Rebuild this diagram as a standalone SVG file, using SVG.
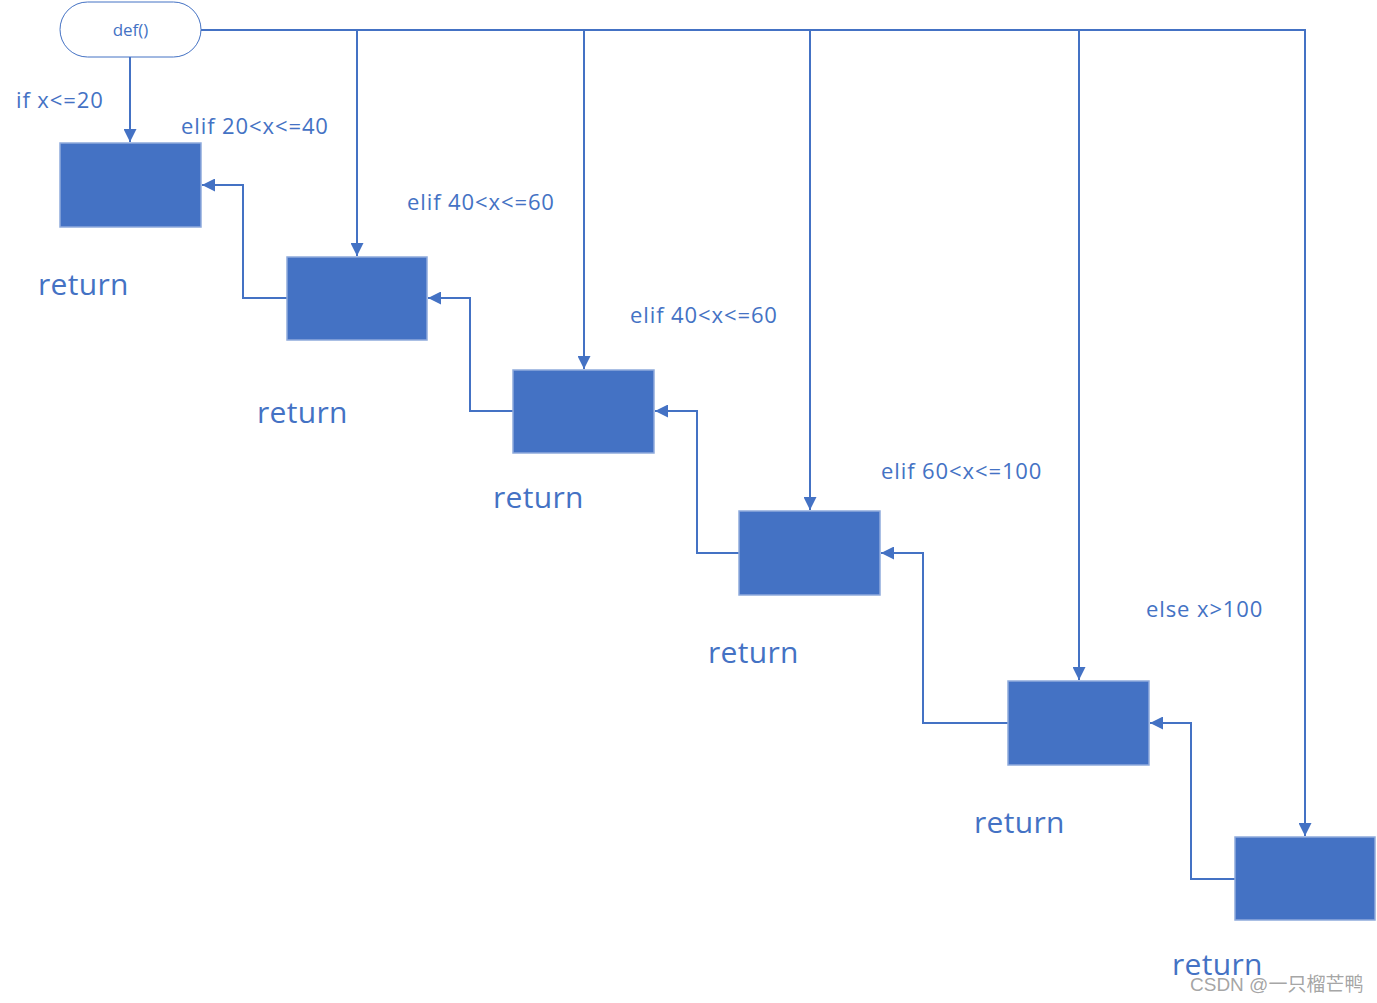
<svg xmlns="http://www.w3.org/2000/svg" width="1377" height="1003" viewBox="0 0 1377 1003">
<style>
.box{fill:#4472C4;stroke:#8FAADC;stroke-width:1.5}
.ln{fill:none;stroke:#4472C4;stroke-width:2}
.lbl{font-family:"Open Sans","Noto Sans",sans-serif;font-size:22px;letter-spacing:0.9px;fill:#4472C4}
.ret{font-family:"Open Sans","Noto Sans",sans-serif;font-size:30px;letter-spacing:0.3px;fill:#4472C4}
</style>
<defs>
<marker id="ah2" viewBox="0 0 10 10" refX="10" refY="5" markerWidth="13" markerHeight="13" markerUnits="userSpaceOnUse" orient="auto">
<path d="M0,0 L10,5 L0,10 z" fill="#4472C4"/>
</marker>
</defs>
<rect width="1377" height="1003" fill="#fff"/>
<g id="connectors">
<path class="ln" d="M130,57 V142" marker-end="url(#ah2)"/>
<path class="ln" d="M201,30 H1305 V836" marker-end="url(#ah2)"/>
<path class="ln" d="M357,30 V256" marker-end="url(#ah2)"/>
<path class="ln" d="M584,30 V369" marker-end="url(#ah2)"/>
<path class="ln" d="M810,30 V510" marker-end="url(#ah2)"/>
<path class="ln" d="M1079,30 V680" marker-end="url(#ah2)"/>
<path class="ln" d="M287,298 H243 V185 H202" marker-end="url(#ah2)"/>
<path class="ln" d="M513,411 H470 V298 H428" marker-end="url(#ah2)"/>
<path class="ln" d="M739,553 H697 V411 H655" marker-end="url(#ah2)"/>
<path class="ln" d="M1008,723 H923 V553 H881" marker-end="url(#ah2)"/>
<path class="ln" d="M1235,879 H1191 V723 H1150" marker-end="url(#ah2)"/>
</g>
<g id="start">
<rect x="60" y="2" width="141" height="55" rx="27.5" fill="#fff" stroke="#4472C4" stroke-width="1"/>
<text x="130.5" y="36" text-anchor="middle" font-family="Open Sans, Noto Sans, sans-serif" font-size="17" fill="#4472C4">def()</text>
</g>
<g id="n1"><rect class="box" x="60" y="143" width="141" height="84"/></g>
<g id="n2"><rect class="box" x="287" y="257" width="140" height="83"/></g>
<g id="n3"><rect class="box" x="513" y="370" width="141" height="83"/></g>
<g id="n4"><rect class="box" x="739" y="511" width="141" height="84"/></g>
<g id="n5"><rect class="box" x="1008" y="681" width="141" height="84"/></g>
<g id="n6"><rect class="box" x="1235" y="837" width="140" height="83"/></g>
<g id="labels">
<text class="lbl" x="16" y="108">if x&lt;=20</text>
<text class="lbl" x="181" y="134">elif 20&lt;x&lt;=40</text>
<text class="lbl" x="407" y="210">elif 40&lt;x&lt;=60</text>
<text class="lbl" x="630" y="323">elif 40&lt;x&lt;=60</text>
<text class="lbl" x="881" y="479">elif 60&lt;x&lt;=100</text>
<text class="lbl" x="1146" y="617">else x&gt;100</text>
<text class="ret" x="38" y="295">return</text>
<text class="ret" x="257" y="423">return</text>
<text class="ret" x="493" y="508">return</text>
<text class="ret" x="708" y="663">return</text>
<text class="ret" x="974" y="833">return</text>
<text class="ret" x="1172" y="975">return</text>
</g>
<text x="1190" y="991" font-family="Liberation Sans, Noto Sans CJK SC, sans-serif" font-size="19" fill="#9a9a9a" fill-opacity="0.9">CSDN @一只榴芒鸭</text>
</svg>
